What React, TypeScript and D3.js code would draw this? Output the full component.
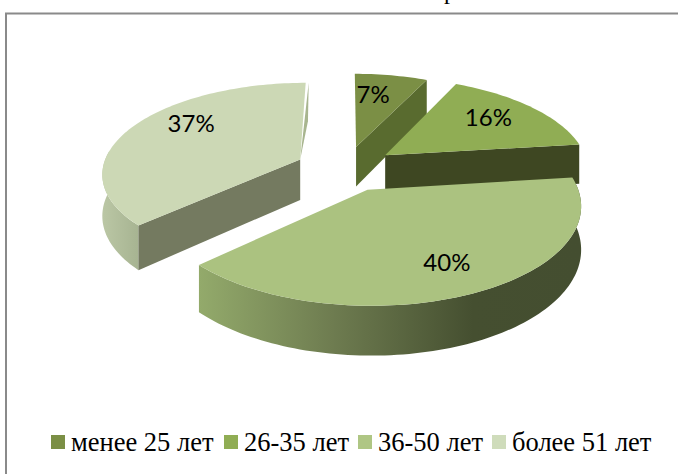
import React from "react";
import * as d3 from "d3";

const categories = ["менее 25 лет", "26-35 лет", "36-50 лет", "более 51 лет"];
const values = [7, 16, 40, 37];
const valueLabels = ["7%", "16%", "40%", "37%"];
const topColors = ["#7b8f45", "#90ad54", "#abc280", "#ccd8b5"];
const legendColors = ["#7b8f45", "#90ad54", "#afc684", "#cfdcbb"];

const WIDTH = 678;
const HEIGHT = 474;
const CX = 345.5;
const CY = 168.4;
const RX = 206;
const RY = 93.5;
const PERSPECTIVE = 0.146;
const EXPLODE = 0.243;
const DEPTH = 41;

const rimScale = [0.95, 0.99, 0.99, 0.96];
// label anchor centres, expressed as (radial fraction, angle fraction inside slice)
const labelPolar = [[0.72, 0.33], [0.73, 0.44], [0.735, 0.49], [0.76, 0.6]];
const drawOrder = [3, 0, 1, 2];
const legendX = [51, 224, 358, 492];

const pieGen = d3.pie<number>().sort(null).startAngle(0).endAngle(2 * Math.PI);
const arcs = pieGen(values);
const lineGen = d3.line<[number, number]>().curve(d3.curveLinear);

function project(gx: number, gy: number, drop = 0): [number, number] {
  const w = 1 + PERSPECTIVE * gy;
  return [CX + (RX * gx) / w, CY - (RY * gy) / w + drop / w];
}

function ground(index: number, r: number, angle: number): [number, number] {
  const a = arcs[index];
  const mid = (a.startAngle + a.endAngle) / 2;
  const rr = r * rimScale[index];
  return [
    EXPLODE * Math.sin(mid) + rr * Math.sin(angle),
    EXPLODE * Math.cos(mid) + rr * Math.cos(angle),
  ];
}

const point = (i: number, r: number, angle: number, drop = 0) => {
  const [gx, gy] = ground(i, r, angle);
  return project(gx, gy, drop);
};

function angleSteps(a0: number, a1: number): number[] {
  const n = Math.max(2, Math.ceil(Math.abs(a1 - a0) * 40));
  return d3.range(n + 1).map((k) => a0 + ((a1 - a0) * k) / n);
}

function topPath(i: number) {
  const a = arcs[i];
  const pts = [point(i, 0, 0), ...angleSteps(a.startAngle, a.endAngle).map((t) => point(i, 1, t))];
  return lineGen(pts) + "Z";
}

function edgeWall(i: number, angle: number) {
  const pts = [point(i, 0, 0), point(i, 1, angle), point(i, 1, angle, DEPTH), point(i, 0, 0, DEPTH)];
  return lineGen(pts) + "Z";
}

function rimWall(i: number, a0: number, a1: number) {
  const steps = angleSteps(a0, a1);
  const pts = [
    ...steps.map((t) => point(i, 1, t)),
    ...steps.slice().reverse().map((t) => point(i, 1, t, DEPTH)),
  ];
  return lineGen(pts) + "Z";
}

function sliver(i: number, angle: number) {
  const p0 = point(i, 0, 0);
  const p1 = point(i, 1, angle);
  const pts: [number, number][] = [
    p0,
    [p1[0] + 3, p1[1]],
    [(p0[0] + p1[0]) / 2 + 5, (p0[1] + p1[1]) / 2],
  ];
  return lineGen(pts) + "Z";
}

export default function App() {
  return (
    <svg
      width={WIDTH}
      height={HEIGHT}
      viewBox={`0 0 ${WIDTH} ${HEIGHT}`}
      style={{ position: "absolute", left: 0, top: 0, background: "#fff" }}
    >
      <defs>
        <linearGradient id="wall40" gradientUnits="userSpaceOnUse" x1="199" x2="580" y1="0" y2="0">
          <stop offset="0" stopColor="#93aa6b" />
          <stop offset="0.35" stopColor="#6e7c50" />
          <stop offset="0.72" stopColor="#454f30" />
          <stop offset="1" stopColor="#444e30" />
        </linearGradient>
        <linearGradient id="wall37" gradientUnits="userSpaceOnUse" x1="100" x2="140" y1="0" y2="0">
          <stop offset="0" stopColor="#bcc8a6" />
          <stop offset="1" stopColor="#a6b391" />
        </linearGradient>
      </defs>

      <text x={444} y={-1} fontFamily="'Liberation Serif', serif" fontSize={24} fill="#000">р</text>

      <path d="M678 13.5H6V474" fill="none" stroke="#8a8a8a" strokeWidth={2} />

      {drawOrder.map((i) => {
        const a = arcs[i];
        return (
          <g key={categories[i]}>
            {i === 3 && <path d={rimWall(3, a.startAngle, 3 * Math.PI / 2 + 0.1)} fill="url(#wall37)" />}
            {i === 3 && <path d={sliver(3, a.endAngle)} fill="#a8b58f" />}
            {i === 3 && <path d={edgeWall(3, a.startAngle)} fill="#747a60" />}
            {i === 0 && <path d={edgeWall(0, a.endAngle)} fill="#596b2f" />}
            {i === 1 && <path d={edgeWall(1, a.endAngle)} fill="#3e4722" />}
            {i === 2 && <path d={rimWall(2, a.startAngle, a.endAngle)} fill="url(#wall40)" />}
            <path d={topPath(i)} fill={topColors[i]} />
          </g>
        );
      })}

      {arcs.map((a, i) => {
        const [r, f] = labelPolar[i];
        const [x, y] = point(i, r, a.startAngle + (a.endAngle - a.startAngle) * f);
        return (
          <text
            key={valueLabels[i]}
            x={x}
            y={y}
            fontFamily="Lato, sans-serif"
            fontSize={24}
            textAnchor="middle"
            dominantBaseline="central"
            fill="#000"
          >
            {valueLabels[i]}
          </text>
        );
      })}

      {categories.map((c, i) => (
        <g key={c}>
          <rect x={legendX[i]} y={435} width={14} height={14} fill={legendColors[i]} />
          <text x={legendX[i] + 20} y={451} fontFamily="'Liberation Serif', serif" fontSize={26.5} fill="#000">
            {c}
          </text>
        </g>
      ))}
    </svg>
  );
}
